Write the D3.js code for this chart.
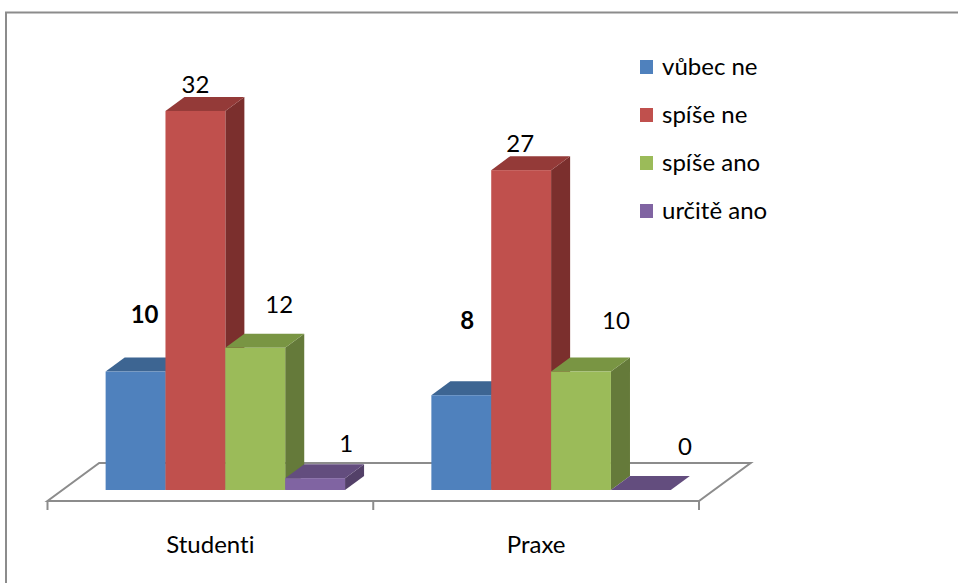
<!DOCTYPE html>
<html>
<head>
<meta charset="utf-8">
<script src="https://cdn.jsdelivr.net/npm/d3@7"></script>
<style>
  html, body { margin: 0; padding: 0; background: #fff; }
  svg { display: block; }
  text { font-family: Lato, "Noto Sans", sans-serif; fill: #000; font-variant-ligatures: none; }
</style>
</head>
<body>
<svg id="chart" width="958" height="583"></svg>
<script>
// Answers per group
const categories = ["Studenti", "Praxe"];
const seriesNames = ["vůbec ne", "spíše ne", "spíše ano", "určitě ano"];
const studentiValues = [10, 32, 12, 1];
const praxeValues = [8, 27, 10, 0];
const valuesByCategory = [studentiValues, praxeValues];

// Face colours per series: front, top, side
const frontColors = ["#4F81BD", "#C0504D", "#9BBB59", "#8064A2"];
const topColors   = ["#3D6592", "#943A38", "#799543", "#634D7E"];
const sideColors  = ["#36597F", "#7B2F2D", "#657A3A", "#534068"];

// Hand-placed value labels (offset from the front-top centre of each bar)
const labelNudge = [
  [[9, -49], [0, -18], [24, -35], [31, -26]],
  [[6, -66], [-1, -18], [35, -43], [44, -35]]
];

const fontSize = 24;
const svg = d3.select("#chart");

// Outer frame (top and left edges)
svg.append("path")
  .attr("d", "M6,583 L6,12.5 L958,12.5")
  .attr("fill", "none")
  .attr("stroke", "#8c8c8c")
  .attr("stroke-width", 2);

// Oblique 3D projection: depth z moves points up and to the right
const floorFrontY = 501;
const kx = 1.36;
const floorDepth = 38;
const barZFront = 11;
const barZBack = 25;
const proj = (x, y, z) => [x + z * kx, y - z * 1];

const xCat = d3.scaleBand().domain(categories).range([47.5, 699]);
const innerShare = 0.735;
const xSeries = d3.scaleBand().domain(seriesNames)
  .range([0, xCat.bandwidth() * innerShare]);
const yVal = d3.scaleLinear().domain([0, 35]).range([0, 414.6]);

// Floor
const fl = xCat.range()[0], fr = xCat.range()[1];
const floorPts = [
  proj(fl, floorFrontY, 0), proj(fr, floorFrontY, 0),
  proj(fr, floorFrontY, floorDepth), proj(fl, floorFrontY, floorDepth)
];
svg.append("path")
  .attr("d", "M" + floorPts.map(p => p.join(",")).join("L") + "Z")
  .attr("fill", "#fff")
  .attr("stroke", "#8c8c8c")
  .attr("stroke-width", 2)
  .attr("stroke-linejoin", "miter");

// Category ticks below the floor front edge
const tickXs = categories.map(c => xCat(c)).concat([fr]);
svg.selectAll("line.tick").data(tickXs).join("line")
  .attr("class", "tick")
  .attr("x1", d => d).attr("x2", d => d)
  .attr("y1", floorFrontY).attr("y2", floorFrontY + 9)
  .attr("stroke", "#8c8c8c").attr("stroke-width", 2);

// Category labels
svg.selectAll("text.cat").data(categories).join("text")
  .attr("class", "cat")
  .attr("x", d => xCat(d) + xCat.bandwidth() / 2)
  .attr("y", 553)
  .attr("text-anchor", "middle")
  .attr("font-size", fontSize)
  .text(d => d);

// Bars
const poly = pts => "M" + pts.map(p => p.join(",")).join("L") + "Z";
const barsG = svg.append("g");
const labelsG = svg.append("g");
const innerOffset = (xCat.bandwidth() - xCat.bandwidth() * innerShare) / 2;

categories.forEach((cat, ci) => {
  seriesNames.forEach((s, si) => {
    const v = valuesByCategory[ci][si];
    const x0 = xCat(cat) + innerOffset + xSeries(s);
    const x1 = x0 + xSeries.bandwidth();
    const yb = floorFrontY;
    const yt = floorFrontY - yVal(v);
    const g = barsG.append("g");
    // right side face
    if (v > 0) {
      g.append("path")
        .attr("d", poly([proj(x1, yb, barZFront), proj(x1, yb, barZBack),
                         proj(x1, yt, barZBack), proj(x1, yt, barZFront)]))
        .attr("fill", sideColors[si]);
    }
    // top face
    g.append("path")
      .attr("d", poly([proj(x0, yt, barZFront), proj(x1, yt, barZFront),
                       proj(x1, yt, barZBack), proj(x0, yt, barZBack)]))
      .attr("fill", topColors[si]);
    // front face
    if (v > 0) {
      const p0 = proj(x0, yt, barZFront), p1 = proj(x1, yb, barZFront);
      g.append("rect")
        .attr("x", p0[0]).attr("y", p0[1])
        .attr("width", p1[0] - p0[0]).attr("height", p1[1] - p0[1])
        .attr("fill", frontColors[si]);
    }
    // value label
    const c = proj((x0 + x1) / 2, yt, barZFront);
    const n = labelNudge[ci][si];
    labelsG.append("text")
      .attr("x", c[0] + n[0])
      .attr("y", c[1] + n[1])
      .attr("text-anchor", "middle")
      .attr("font-size", fontSize)
      .attr("font-weight", si === 0 ? "bold" : "normal")
      .text(v);
  });
});

// Legend
const legend = svg.append("g").attr("transform", "translate(640,60)");
const rowGap = 48;
seriesNames.forEach((s, i) => {
  legend.append("rect")
    .attr("x", 0).attr("y", i * rowGap)
    .attr("width", 13).attr("height", 14)
    .attr("fill", frontColors[i]);
  legend.append("text")
    .attr("x", 22).attr("y", i * rowGap + 15)
    .attr("font-size", fontSize)
    .text(s);
});
</script>
</body>
</html>
